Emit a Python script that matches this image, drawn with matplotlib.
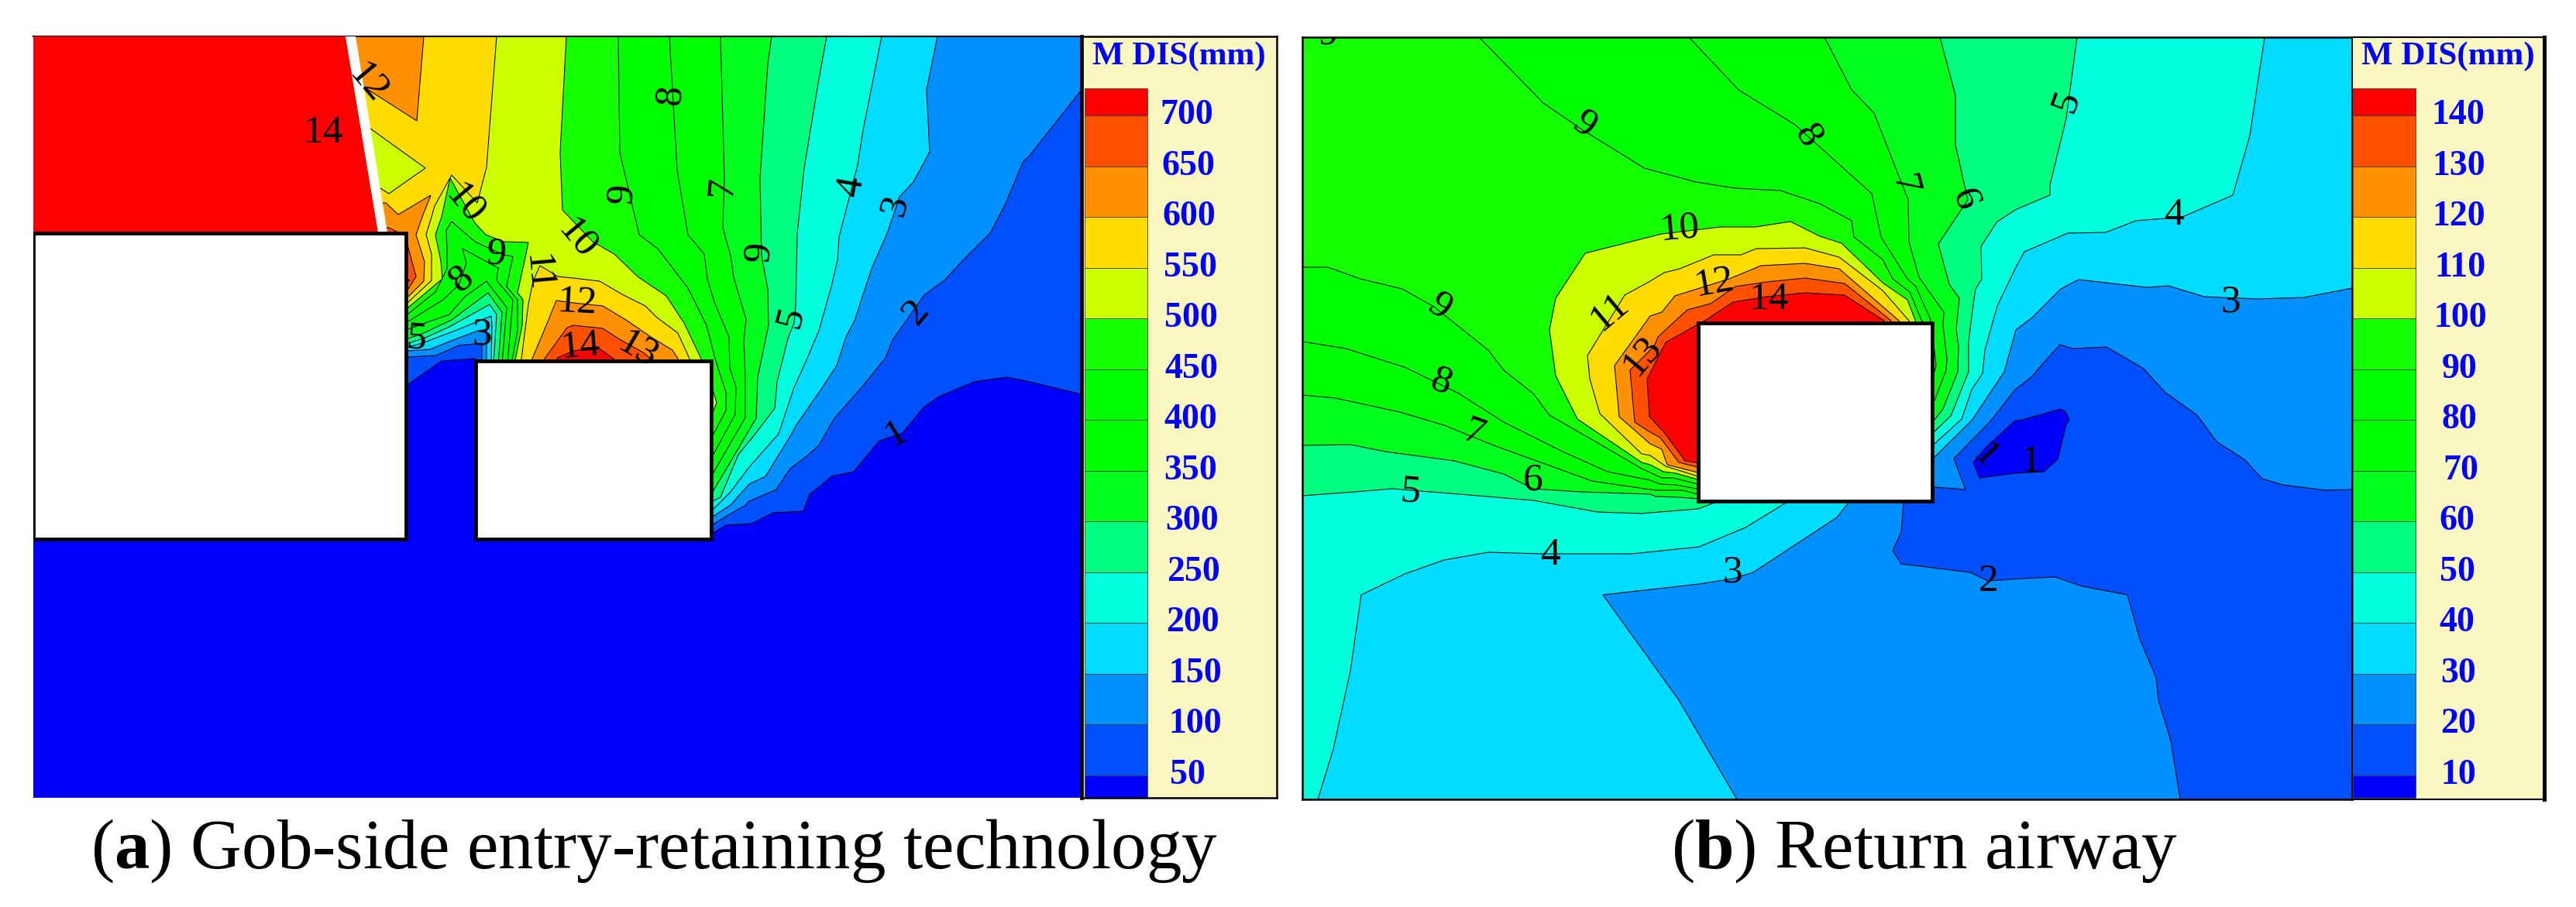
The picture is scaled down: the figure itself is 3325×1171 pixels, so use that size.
import matplotlib
matplotlib.use('Agg')
import matplotlib.pyplot as plt
from matplotlib.patches import Rectangle

plt.rcParams['font.family'] = ['Liberation Serif', 'DejaVu Serif']
plt.rcParams['mathtext.fontset'] = 'custom'
plt.rcParams['mathtext.rm'] = 'Liberation Serif'
plt.rcParams['mathtext.bf'] = 'Liberation Serif:bold'

W, H = 3325, 1171

# band colours, lowest to highest (band n lies between level n and n+1)
band_colors = ['#0000ff', '#0050ff', '#0090ff', '#00dcff', '#00ffdc', '#00ff80', '#00ff1c',
               '#00ff00', '#00ff00', '#14ff00', '#ccff00', '#ffdc00', '#ff9000', '#ff5000', '#ff0000']
legend_a_values = [50, 100, 150, 200, 250, 300, 350, 400, 450, 500, 550, 600, 650, 700]
legend_b_values = [10, 20, 30, 40, 50, 60, 70, 80, 90, 100, 110, 120, 130, 140]
legend_a_text_x = [1533, 1543, 1543, 1539, 1540, 1539, 1537, 1537, 1538, 1537, 1536, 1535, 1534, 1532]
legend_b_text_x = [3173, 3173, 3173, 3171, 3172, 3171, 3176, 3174, 3175, 3176, 3175, 3174, 3174, 3173]

a_level_1 = [(43,47),(1396,47),(1396,509),(1321,491),(1299,487),(1257,493),(1212,512),(1192,526),(1165,559),
             (1135,569),(1102,609),(1073,615),(1062,625),(1045,638),(1037,660),(998,662),(970,676),(937,678),
             (919,689),(800,600),(640,480),(612,463),(570,466),(527,496),(43,496)]
a_level_2 = [(43,47),(1396,47),(1396,116),(1328,202),(1321,208),(1297,265),(1278,301),(1243,336),(1219,362),
             (1193,381),(1152,439),(1143,462),(1114,498),(1077,540),(1057,575),(1040,590),(1020,605),(1002,632),
             (965,648),(963,652),(940,665),(919,678),(800,600),(640,480),(622,470),(622,443),(592,446),(563,459),
             (527,461),(43,461)]
a_level_3 = [(43,47),(1210,47),(1196,116),(1200,196),(1179,235),(1161,254),(1146,299),(1125,347),(1103,414),
             (1092,435),(1080,472),(1057,507),(1027,550),(1022,560),(988,615),(967,625),(943,652),(920,667),
             (800,600),(640,480),(628,470),(628,425),(617,427),(590,437),(555,451),(527,453),(43,453)]
a_level_4 = [(43,47),(1138,47),(1114,168),(1107,213),(1083,306),(1081,336),(1073,370),(1057,427),(1040,467),
             (1025,500),(1005,560),(967,603),(943,635),(920,658),(800,600),(640,480),(634,470),(635,420),(634,408),
             (587,427),(545,443),(527,448),(43,448)]
a_level_5 = [(43,47),(1067,47),(1056,108),(1038,217),(1029,302),(1027,396),(1025,417),(1017,437),(1003,493),
             (1000,527),(975,560),(953,587),(930,642),(920,647),(800,600),(650,480),(637,470),(641,406),(632,393),
             (580,422),(547,437),(527,443),(43,443)]
a_level_6 = [(43,47),(996,47),(991,83),(981,230),(983,330),(991,373),(992,420),(978,487),(976,540),(920,635),
             (800,600),(650,480),(643,470),(648,403),(630,378),(583,413),(547,430),(527,437),(43,437)]
a_level_7 = [(43,47),(930,47),(935,230),(933,294),(943,330),(947,358),(963,412),(960,440),(962,487),(962,539),
             (920,612),(800,600),(660,480),(648,470),(654,397),(628,363),(600,383),(580,406),(527,425),(43,425)]
a_level_8 = [(43,47),(864,47),(874,220),(888,303),(909,328),(913,360),(922,390),(941,435),(942,475),(950,500),
             (949,535),(920,588),(800,550),(670,480),(655,470),(662,387),(641,362),(643,346),(597,321),(602,340),
             (592,368),(572,387),(527,415),(43,415)]
a_level_9 = [(43,47),(798,47),(800,197),(825,303),(849,321),(888,372),(912,420),(923,463),(937,507),(937,530),
             (920,562),(800,520),(670,480),(660,470),(668,427),(668,387),(654,370),(662,331),(650,329),(613,312),
             (583,286),(576,297),(577,323),(577,347),(562,377),(527,405),(43,405)]
a_level_10 = [(43,47),(731,47),(723,197),(726,271),(765,312),(793,328),(823,357),(860,382),(883,417),(905,463),
              (910,480),(920,503),(925,520),(920,533),(800,500),(670,480),(664,470),(674,420),(675,387),(668,378),
              (677,337),(682,313),(650,312),(627,303),(613,288),(581,230),(570,280),(562,303),(569,337),(571,360),
              (527,397),(43,397)]
a_level_11_top = [(43,47),(641,47),(628,216),(616,262),(583,226),(561,266),(557,280),(550,303),(557,328),(557,362),
                  (527,390),(43,390),(43,243),(491,243),(502,250),(549,217),(478,166),(43,166)]
a_level_11_low = [(670,480),(673,463),(682,393),(688,363),(697,343),(720,357),(740,359),(774,363),(803,380),
                  (833,395),(848,410),(875,430),(890,463),(890,480)]
a_level_12_top = [(43,47),(547,47),(538,156),(463,108),(43,108)]
a_level_12_mid = [(43,262),(498,262),(514,277),(556,252),(545,280),(537,303),(548,338),(547,363),(527,383),(43,383)]
a_level_12_low = [(687,480),(687,463),(708,413),(718,388),(740,391),(778,395),(808,413),(840,435),(868,452),
                  (875,463),(875,480)]
a_level_13_mid = [(43,294),(502,294),(524,305),(527,320),(537,357),(527,373),(43,373)]
a_level_13_low = [(703,480),(703,463),(732,423),(740,420),(778,424),(798,437),(830,455),(840,463),(840,480)]
a_level_14_mid = [(515,355),(529,362),(515,368)]
a_level_14_low = [(719,480),(719,462),(740,453),(772,449),(792,463),(792,480)]
a_red_side = [(43,47),(446,47),(488,300),(43,300)]
a_fault = [(446,47),(459,47),(500,300),(488,300)]

a_regions = [(1, a_level_1), (2, a_level_2), (3, a_level_3), (4, a_level_4), (5, a_level_5), (6, a_level_6),
             (7, a_level_7), (8, a_level_8), (9, a_level_9), (10, a_level_10), (11, a_level_11_top),
             (11, a_level_11_low), (12, a_level_12_top), (12, a_level_12_mid), (12, a_level_12_low),
             (13, a_level_13_mid), (13, a_level_13_low), (14, a_level_14_mid), (14, a_level_14_low)]

# text, x, y, rotation
a_labels = [('12', 474, 108, -50), ('14', 417, 172, 0), ('10', 600, 264, -50), ('10', 745, 309, -50),
            ('8', 865, 122, 85), ('9', 803, 250, 85), ('7', 933, 241, 85), ('9', 980, 325, 85),
            ('5', 1021, 409, 75), ('4', 1099, 240, 80), ('3', 1155, 265, 75), ('2', 1183, 403, 50),
            ('1', 1157, 560, 30), ('9', 640, 328, -5), ('8', 596, 360, 40), ('11', 693, 353, -85),
            ('12', 745, 391, -3), ('14', 749, 448, 5), ('13', 823, 452, -30), ('3', 622, 432, 0),
            ('5', 538, 437, -5)]
a_blocks = [(43, 300.5, 524, 696), (614, 465.5, 917.5, 696)]

# ---- (b) ----
b_below_2 = [(3036,632),(3002,633),(2947,626),(2920,618),(2898,594),(2861,570),(2836,536),(2794,506),(2767,476),
             (2719,448),(2675,450),(2659,445),(2638,468),(2622,487),(2601,503),(2580,530),(2568,545),(2522,592),
             (2537,632),(2497,629),(2480,630),(2458,640),(2457,650),(2454,687),(2443,711),(2454,728),(2543,739),
             (2566,750),(2610,747),(2653,745),(2688,757),(2746,768),(2762,825),(2783,875),(2786,904),(2802,956),
             (2814,1032),(3036,1032)]
b_below_1 = [(2547,597),(2555,617),(2600,611),(2638,609),(2656,593),(2667,548),(2671,542),(2667,533),(2660,528),
             (2607,543),(2601,543),(2563,578)]
b_level_3 = [(1681,48),(3036,48),(3036,372),(2974,384),(2914,386),(2845,383),(2799,369),(2771,371),(2683,361),
             (2660,373),(2623,410),(2602,426),(2587,480),(2545,543),(2497,590),(2480,600),(2395,640),(2387,648),
             (2371,668),(2330,695),(2263,739),(2237,747),(2193,754),(2069,768),(2167,904),(2242,1032),(1681,1032)]
b_level_4 = [(1681,48),(2923,48),(2904,175),(2882,252),(2817,280),(2794,282),(2757,285),(2718,300),(2669,301),
             (2613,325),(2603,343),(2578,395),(2562,452),(2559,482),(2545,503),(2532,541),(2497,573),(2480,580),
             (2320,640),(2307,648),(2253,681),(2193,706),(2106,715),(1992,715),(1921,713),(1864,723),(1813,741),
             (1757,768),(1743,866),(1721,967),(1701,1032),(1681,1032)]
b_level_5 = [(1681,48),(2681,48),(2667,153),(2646,239),(2646,252),(2603,270),(2578,286),(2557,318),(2558,360),
             (2550,373),(2547,393),(2541,442),(2541,480),(2518,537),(2497,557),(2480,560),(2225,642),(2213,649),
             (2192,657),(2130,662),(2119,663),(2062,661),(1979,646),(1896,639),(1797,631),(1749,635),(1681,640)]
b_level_6 = [(1681,48),(2504,48),(2524,123),(2524,187),(2540,258),(2502,315),(2516,367),(2529,385),(2525,425),
             (2528,447),(2527,480),(2508,528),(2497,542),(2480,545),(2195,644),(2167,642),(2137,641),(2130,638),
             (2039,635),(1979,631),(1941,612),(1877,595),(1788,583),(1743,574),(1681,575)]
b_level_7 = [(1681,48),(2355,48),(2390,116),(2419,146),(2463,258),(2464,312),(2477,358),(2509,403),(2508,420),
             (2513,463),(2512,478),(2497,517),(2480,520),(2195,639),(2172,633),(2140,633),(2130,632),(2055,621),
             (2011,605),(1928,575),(1864,549),(1807,532),(1724,514),(1681,510)]
b_level_8 = [(1681,48),(2180,48),(2244,116),(2317,161),(2416,250),(2428,306),(2462,360),(2473,370),(2492,413),
             (2490,450),(2497,452),(2499,472),(2497,480),(2490,480),(2195,632),(2163,626),(2143,625),(2130,620),
             (2075,609),(2017,583),(1941,545),(1883,508),(1813,474),(1737,450),(1681,441)]
b_level_9 = [(1681,48),(1909,48),(1992,133),(2043,168),(2103,205),(2122,217),(2189,235),(2240,243),(2298,246),
             (2349,263),(2390,285),(2393,306),(2430,335),(2443,360),(2465,377),(2480,413),(2485,420),(2195,626),
             (2160,617),(2145,617),(2130,610),(2119,605),(2068,575),(2000,536),(1979,508),(1941,478),(1921,452),
             (1851,396),(1810,373),(1756,360),(1714,345),(1681,345)]
b_level_10 = [(2473,420),(2472,413),(2462,387),(2430,365),(2377,314),(2349,305),(2311,286),(2266,293),(2221,293),
              (2145,302),(2046,327),(2008,385),(2000,426),(2008,485),(2036,541),(2119,597),(2130,600),(2147,609),
              (2163,611),(2195,620)]
b_level_11 = [(2464,420),(2464,414),(2430,375),(2374,332),(2330,320),(2267,321),(2247,329),(2212,329),(2168,347),
              (2148,352),(2130,363),(2097,381),(2049,459),(2052,489),(2065,534),(2119,586),(2130,588),(2150,602),
              (2195,616)]
b_level_12 = [(2455,420),(2451,414),(2374,347),(2330,340),(2273,343),(2232,360),(2162,382),(2145,403),(2130,408),
              (2084,472),(2090,538),(2130,573),(2145,580),(2152,600),(2195,611)]
b_level_13 = [(2441,420),(2441,414),(2381,366),(2330,359),(2280,364),(2240,370),(2208,392),(2178,400),(2140,435),
              (2135,447),(2104,478),(2110,545),(2130,558),(2143,565),(2167,597),(2195,604)]
b_level_14 = [(2432,420),(2432,414),(2381,381),(2330,378),(2280,383),(2237,390),(2202,413),(2150,442),(2126,489),
              (2129,538),(2147,557),(2175,595),(2195,598)]

b_regions = [(1, b_below_2), (0, b_below_1), (3, b_level_3), (4, b_level_4), (5, b_level_5), (6, b_level_6),
             (7, b_level_7), (8, b_level_8), (9, b_level_9), (10, b_level_10), (11, b_level_11),
             (12, b_level_12), (13, b_level_13), (14, b_level_14)]

b_labels = [('9', 2045, 161, -35), ('8', 2333, 176, -60), ('7', 2457, 239, -75), ('6', 2536, 258, -70),
            ('5', 2667, 131, 70), ('4', 2807, 278, 0), ('3', 2879, 390, 0), ('2', 2567, 751, 0),
            ('1', 2621, 597, 0), ('1', 2562, 589, -45), ('10', 2168, 295, 5), ('11', 2078, 403, 40),
            ('12', 2213, 365, 10), ('14', 2283, 387, 0), ('13', 2119, 459, 50), ('9', 1858, 396, -35),
            ('8', 1860, 493, -20), ('7', 1902, 560, -20), ('6', 1979, 620, 0), ('5', 1821, 635, -5),
            ('4', 2002, 717, 0), ('3', 2236, 739, 0)]
b_blocks = [(2192, 416.7, 2494, 646.5)]


def px_axes(x0, y0, x1, y1):
    return fig.add_axes([x0 / W, 1 - y1 / H, (x1 - x0) / W, (y1 - y0) / H])


def draw_field(ax, base, regions, labels, blocks):
    ax.set_facecolor(band_colors[base])
    for band, line in regions:
        xs = [p[0] for p in line]
        ys = [p[1] for p in line]
        ax.fill(xs, ys, facecolor=band_colors[band], edgecolor='black', linewidth=0.75)
    for x0, y0, x1, y1 in blocks:
        ax.add_patch(Rectangle((x0, y0), x1 - x0, y1 - y0, facecolor='white', edgecolor='black',
                               linewidth=3.4, zorder=5, joinstyle='miter'))
    for s, x, y, r in labels:
        ax.text(x, y, s, fontsize=37, rotation=r, ha='center', va='center', zorder=6,
                rotation_mode='anchor', clip_on=False)
    ax.set_xticks([])
    ax.set_yticks([])


def draw_legend(ax, values, text_x, cell_x0, cell_x1):
    # one level is 65.5 px tall, level 1 sits at y=1000.7, the bar overruns both ends
    step = values[1] - values[0]
    lows = [values[0] - step * 29.3 / 65.5] + values
    highs = values + [values[-1] + step * 35.4 / 65.5]
    for lo, hi, c in zip(lows, highs, band_colors):
        ax.bar(cell_x0, hi - lo, bottom=lo, width=cell_x1 - cell_x0, align='edge', color=c,
               edgecolor='#404040', linewidth=0.6)
    for v, x in zip(values, text_x):
        ax.text(x, v, str(v), color='#0000ff', fontsize=33, fontweight='bold', ha='center', va='center')
    ax.set_facecolor('#FAF6C0')
    ax.set_xticks([])
    ax.set_yticks([])


fig = plt.figure(figsize=(W / 100, H / 100), dpi=100, facecolor='white')

# panel a
ax_a = px_axes(43, 47, 1396, 1030)
ax_a.set_xlim(43, 1396)
ax_a.set_ylim(1030, 47)
draw_field(ax_a, 0, a_regions, a_labels, a_blocks)
ax_a.fill([p[0] for p in a_red_side], [p[1] for p in a_red_side], color=band_colors[14], linewidth=0, zorder=3)
ax_a.fill([p[0] for p in a_fault], [p[1] for p in a_fault], color='white', linewidth=0, zorder=3)
for side in ['left', 'bottom', 'right']:
    ax_a.spines[side].set_visible(False)
ax_a.spines['top'].set_linewidth(1.5)

leg_a = px_axes(1396, 47, 1648, 1030)
leg_a.set_xlim(1396, 1648)
leg_a.set_ylim(50 - 50 * (1030 - 1000.7) / 65.5, 700 + 50 * (149.4 - 47) / 65.5)
draw_legend(leg_a, legend_a_values, legend_a_text_x, 1400, 1481)
leg_a.text(1522, 50 + 50 * (1000.7 - 73) / 65.5, 'M DIS(mm)', color='#0000ff', fontsize=31, fontweight='bold',
           ha='center', va='center')
leg_a.spines['left'].set_linewidth(3.4)
for side in ['top', 'right', 'bottom']:
    leg_a.spines[side].set_linewidth(1.8)

# panel b
ax_b = px_axes(1681, 48, 3036, 1032)
ax_b.set_xlim(1681, 3036)
ax_b.set_ylim(1032, 48)
draw_field(ax_b, 2, b_regions, b_labels, b_blocks)
ax_b.text(1714, 44, '9', fontsize=37, ha='center', va='center', zorder=6, clip_on=True)
for side in ax_b.spines:
    ax_b.spines[side].set_linewidth(1.8)

leg_b = px_axes(3036, 48, 3284, 1032)
leg_b.set_xlim(3036, 3284)
leg_b.set_ylim(10 - 10 * (1032 - 1000.7) / 65.5, 140 + 10 * (149.4 - 48) / 65.5)
draw_legend(leg_b, legend_b_values, legend_b_text_x, 3037, 3118)
leg_b.text(3160, 10 + 10 * (1000.7 - 73) / 65.5, 'M DIS(mm)', color='#0000ff', fontsize=31, fontweight='bold',
           ha='center', va='center')
leg_b.spines['left'].set_linewidth(0.8)
leg_b.spines['top'].set_linewidth(1.5)
leg_b.spines['right'].set_linewidth(3.6)
leg_b.spines['bottom'].set_linewidth(1.5)

# captions
fig.text(117 / W, 1 - 1099 / H, r'($\mathbf{a}$) Gob-side entry-retaining technology', fontsize=65.5,
         ha='left', va='center')
fig.text(2157 / W, 1 - 1099 / H, r'($\mathbf{b}$) Return airway', fontsize=65.5, ha='left', va='center')

fig.savefig('out.png', dpi=100)
